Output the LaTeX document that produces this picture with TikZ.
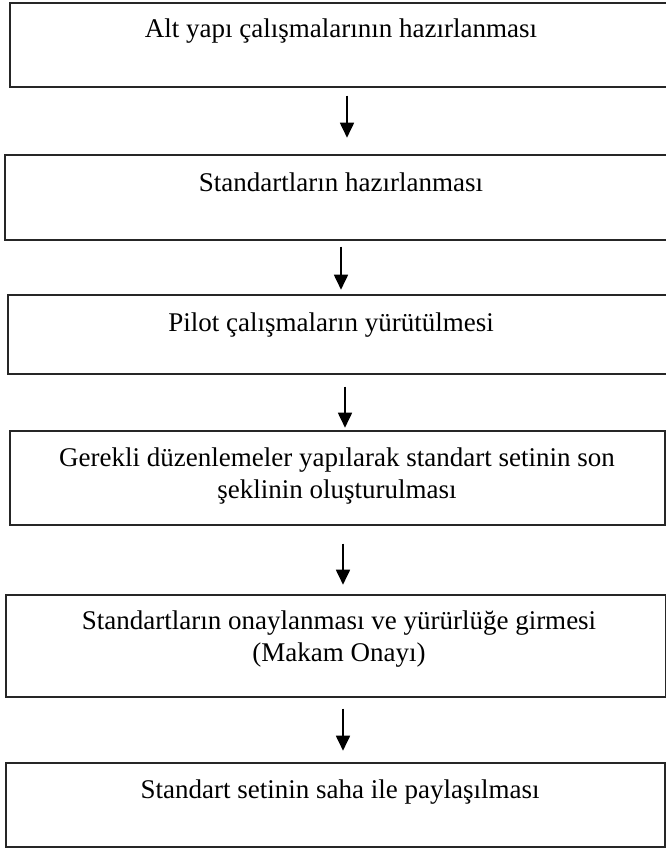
\documentclass[tikz,border=0pt]{standalone}
\usepackage{fontspec}
\setmainfont{Liberation Serif}
\usetikzlibrary{arrows.meta}

\tikzset{
  stepbox/.style={draw=black!85, line width=1.7pt, fill=white, inner sep=0pt,
                  anchor=north west},
  steptext/.style={anchor=base, inner sep=0pt, align=center,
                   font=\fontsize{27}{32}\selectfont},
  flow/.style={draw=black, line width=1.8pt,
               -{Triangle[length=15pt,width=14pt]}},
}

\begin{document}
\begin{tikzpicture}[x=1pt, y=-1pt]
  \useasboundingbox (0,0) rectangle (665,849);

  % process boxes
  \node[stepbox, minimum width=680pt, minimum height=84pt]  (b1) at (9,2)   {};
  \node[stepbox, minimum width=680pt, minimum height=85pt]  (b2) at (4,154) {};
  \node[stepbox, minimum width=680pt, minimum height=79pt]  (b3) at (7,294) {};
  \node[stepbox, minimum width=655pt, minimum height=94pt]  (b4) at (9,430) {};
  \node[stepbox, minimum width=660pt, minimum height=102pt] (b5) at (5,594) {};
  \node[stepbox, minimum width=659pt, minimum height=84pt]  (b6) at (5,762) {};

  % box captions (multi-line captions sit on the baseline of their last line)
  \node[steptext] (t1) at (341,37)  {Alt yapı çalışmalarının hazırlanması};
  \node[steptext] (t2) at (341,191) {Standartların hazırlanması};
  \node[steptext] (t3) at (331,331) {Pilot çalışmaların yürütülmesi};
  \node[steptext] (t4) at (337,498) {Gerekli düzenlemeler yapılarak standart setinin son\\şeklinin oluşturulması};
  \node[steptext] (t5) at (339,661) {Standartların onaylanması ve yürürlüğe girmesi\\(Makam Onayı)};
  \node[steptext] (t6) at (340,798) {Standart setinin saha ile paylaşılması};

  % arrows between steps
  \draw[flow] (b1.south west) ++(338,8)  -- ++(0,42);
  \draw[flow] (b2.south west) ++(337,6)  -- ++(0,43);
  \draw[flow] (b3.south west) ++(338,12) -- ++(0,41);
  \draw[flow] (b4.south west) ++(334,18) -- ++(0,41);
  \draw[flow] (b5.south west) ++(338,11) -- ++(0,42);
\end{tikzpicture}
\end{document}
